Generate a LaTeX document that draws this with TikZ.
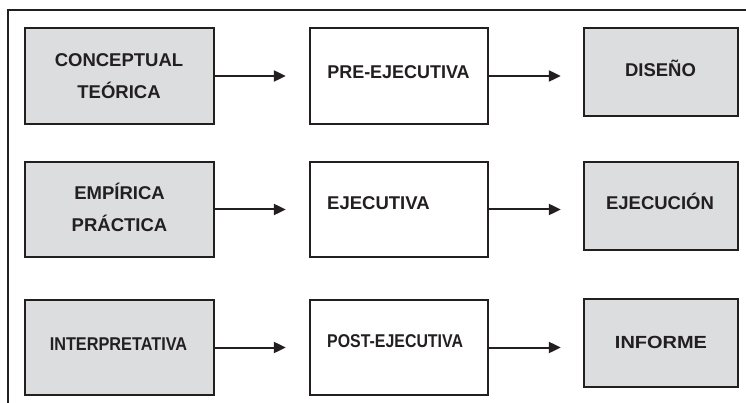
\documentclass[tikz,border=0pt]{standalone}
\usepackage{fontspec}
\setmainfont{Liberation Sans}
\usetikzlibrary{arrows.meta}
\definecolor{ln}{HTML}{231F20}
\definecolor{gr}{HTML}{DCDDDF}
\tikzset{
  box/.style={draw=ln, line width=2.3pt, inner sep=0pt},
  gbox/.style={box, fill=gr},
  wbox/.style={box, fill=white},
  lbl/.style={font=\bfseries\fontsize{18.5}{32}\selectfont, text=ln, align=center, inner sep=0pt, anchor=base},
  lblw/.style={lbl, anchor=base west},
  arr/.style={draw=ln, line width=2pt, -{Triangle[length=12pt,width=11pt]}},
  frame/.style={draw=ln, line width=2.3pt}
}
\begin{document}
\begin{tikzpicture}[x=1pt,y=-1pt]
\useasboundingbox (0,0) rectangle (746,403);
\coordinate (fr) at (747,10);
\coordinate (fc) at (8,10);
\coordinate (fb) at (8,404);
\draw[frame] (fr) -- (fc) -- (fb);
% column 1
\node[gbox, minimum width=189pt, minimum height=96pt] (a1) at (119.5,76) {};
\node[gbox, minimum width=189pt, minimum height=95pt] (a2) at (119.5,209.5) {};
\node[gbox, minimum width=189pt, minimum height=95pt] (a3) at (119.5,347.5) {};
% column 2
\node[wbox, minimum width=178pt, minimum height=96pt] (b1) at (399,76) {};
\node[wbox, minimum width=178pt, minimum height=95pt] (b2) at (399,209.5) {};
\node[wbox, minimum width=178pt, minimum height=95pt] (b3) at (399,347.5) {};
% column 3
\node[gbox, minimum width=154pt, minimum height=88pt] (c1) at (661,72) {};
\node[gbox, minimum width=154pt, minimum height=88pt] (c2) at (661,206) {};
\node[gbox, minimum width=154pt, minimum height=88pt] (c3) at (661,343) {};
% labels
\node[lbl] (ta1) at (119,98.6) {CONCEPTUAL\\TEÓRICA};
\node[lbl] (ta2) at (119.5,231.6) {EMPÍRICA\\PRÁCTICA};
\node[lbl] (ta3) at (118.5,350.6) {\scalebox{0.88}[1]{INTERPRETATIVA}};
\node[lbl] (tb1) at (398.5,78.6) {\scalebox{0.97}[1]{PRE-EJECUTIVA}};
\node[lblw] (tb2) at (327,209.6) {EJECUTIVA};
\node[lblw] (tb3) at (327,347.6) {\scalebox{0.86}[1]{POST-EJECUTIVA}};
\node[lbl] (tc1) at (660.5,76.6) {DISEÑO};
\node[lbl] (tc2) at (660,209.6) {EJECUCIÓN};
\node[lbl] (tc3) at (661,348.6) {\scalebox{1.08}[0.95]{INFORME}};
% arrows
\draw[arr, shorten >=23pt] (a1.east) -- (a1.east -| b1.west);
\draw[arr, shorten >=23pt] (a2.east) -- (a2.east -| b2.west);
\draw[arr, shorten >=23pt] (a3.east) -- (a3.east -| b3.west);
\draw[arr, shorten >=22pt] (b1.east) -- (b1.east -| c1.west);
\draw[arr, shorten >=22pt] (b2.east) -- (b2.east -| c2.west);
\draw[arr, shorten >=22pt] (b3.east) -- (b3.east -| c3.west);
\end{tikzpicture}
\end{document}
